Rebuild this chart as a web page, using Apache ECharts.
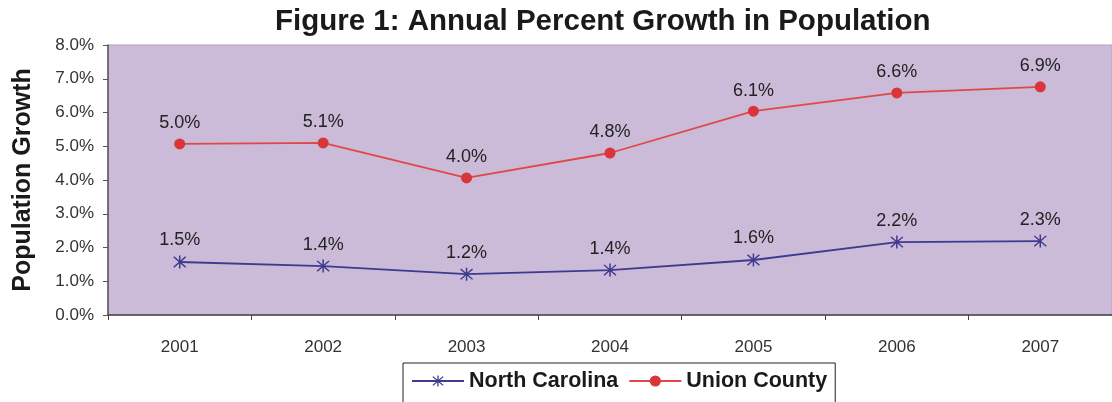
<!DOCTYPE html>
<html><head><meta charset="utf-8">
<script src="https://cdn.jsdelivr.net/npm/echarts@6/dist/echarts.min.js"></script>
<style>html,body{margin:0;padding:0;background:#fff}#c{width:1112px;height:402px}</style>
</head><body><div id="c"></div>
<script>
var years = ['2001','2002','2003','2004','2005','2006','2007'];
var ncValues = [1.57, 1.45, 1.21, 1.33, 1.63, 2.16, 2.19];
var ncLabels = ['1.5%','1.4%','1.2%','1.4%','1.6%','2.2%','2.3%'];
var ucValues = [5.07, 5.10, 4.06, 4.80, 6.04, 6.58, 6.76];
var ucLabels = ['5.0%','5.1%','4.0%','4.8%','6.1%','6.6%','6.9%'];

var asterisk = 'path://M9,0L11,0L11,20L9,20Z M2.7,1.3L18.7,17.3L17.3,18.7L1.3,2.7Z M17.3,1.3L18.7,2.7L2.7,18.7L1.3,17.3Z';
var font = 'Liberation Sans, Arial, sans-serif';
var chart = echarts.init(document.getElementById('c'));
chart.setOption({
  animation: false,
  backgroundColor: '#fff',
  textStyle: {fontFamily: font},
  title: {
    text: 'Figure 1: Annual Percent Growth in Population',
    left: 270, top: 2,
    textStyle: {fontSize: 29.5, fontWeight: 'bold', color: '#1a1a1a', fontFamily: font}
  },
  grid: {left: 108, top: 45, width: 1010, height: 270, show: true,
    backgroundColor: '#cbbad8', borderColor: '#b0a0c0', borderWidth: 1},
  legend: {
    top: 363, left: 403, width: 432,
    padding: [7, 8, 14, 8],
    borderColor: '#222', borderWidth: 1,
    itemWidth: 52, itemHeight: 14, itemGap: 10,
    textStyle: {fontSize: 21.5, fontWeight: 'bold', color: '#1a1a1a', fontFamily: font},
    data: ['North Carolina', 'Union County']
  },
  xAxis: {
    type: 'category', data: years, boundaryGap: true,
    axisLine: {lineStyle: {color: '#444', width: 1.5}},
    axisTick: {show: true, length: 5, lineStyle: {color: '#444'}},
    axisLabel: {fontSize: 17, color: '#333', margin: 24, fontFamily: font}
  },
  yAxis: {
    type: 'value', min: 0, max: 8, interval: 1,
    name: 'Population Growth', nameLocation: 'middle', nameGap: 72,
    nameTextStyle: {fontSize: 25, fontWeight: 'bold', color: '#1a1a1a', fontFamily: font},
    axisLine: {show: true, lineStyle: {color: '#555', width: 1.5}},
    axisTick: {show: true, length: 5, lineStyle: {color: '#555'}},
    splitLine: {show: false},
    axisLabel: {fontSize: 17, color: '#333', margin: 14, fontFamily: font,
      formatter: function (v) { return v.toFixed(1) + '%'; }}
  },
  series: [
    {
      name: 'North Carolina', type: 'line', data: ncValues,
      symbol: asterisk, symbolSize: 13,
      itemStyle: {color: '#3e3a8e'},
      lineStyle: {color: '#3e3a8e', width: 1.8},
      label: {show: true, position: 'top', distance: 6, fontSize: 18, color: '#222', fontFamily: font,
        formatter: function (p) { return ncLabels[p.dataIndex]; }}
    },
    {
      name: 'Union County', type: 'line', data: ucValues,
      symbol: 'circle', symbolSize: 11,
      itemStyle: {color: '#d9363a'},
      lineStyle: {color: '#e04848', width: 1.8},
      label: {show: true, position: 'top', distance: 6, fontSize: 18, color: '#222', fontFamily: font,
        formatter: function (p) { return ucLabels[p.dataIndex]; }}
    }
  ]
});
</script></body></html>
